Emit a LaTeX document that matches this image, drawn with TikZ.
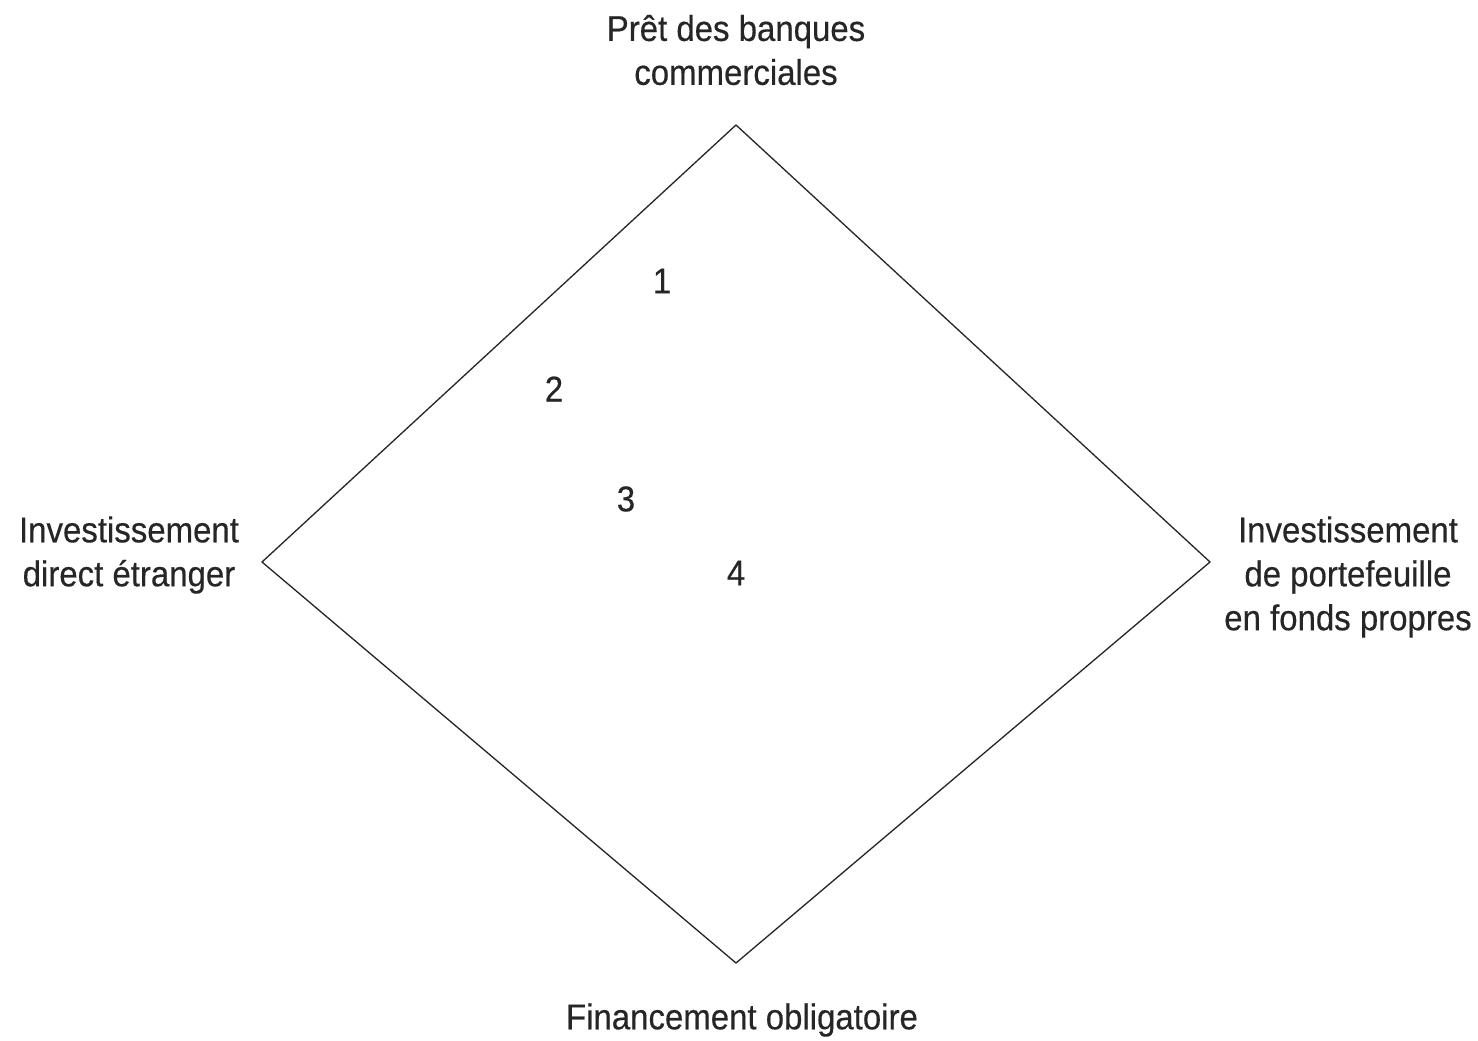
\documentclass[tikz,border=0pt]{standalone}
\usepackage{fontspec}
\setmainfont[FakeStretch=0.92,FakeBold=0.4]{Liberation Sans}
\begin{document}
\begin{tikzpicture}[x=0.02cm,y=-0.02cm,
  lbl/.style={align=center,font=\fontsize{20.4pt}{25pt}\selectfont,text=black!85,inner sep=0pt},
  num/.style={font=\fontsize{20.4pt}{25pt}\selectfont,text=black!85,inner sep=0pt},
  edge/.style={draw=black!85,line width=0.75pt,line join=miter}]
\useasboundingbox (0,0) rectangle (1478,1041);
\coordinate (T) at (736,125);
\coordinate (L) at (262,562);
\coordinate (R) at (1210,562);
\coordinate (B) at (736,963);
\draw[edge] (T) -- (R) -- (B) -- (L) -- cycle;
\node[lbl] (tl) at (736,50) {Prêt des banques\\commerciales};
\node[lbl] (ll) at (129,555) {Investissement\\direct étranger};
\node[lbl] (rl) at (1348,577) {Investissement\\de portefeuille\\en fonds propres};
\node[lbl] (bl) at (742,1020) {Financement obligatoire};
\node[num] (n1) at (662,281) {1};
\node[num] (n2) at (554,389) {2};
\node[num] (n3) at (626,499) {3};
\node[num] (n4) at (736,573) {4};
\end{tikzpicture}
\end{document}
